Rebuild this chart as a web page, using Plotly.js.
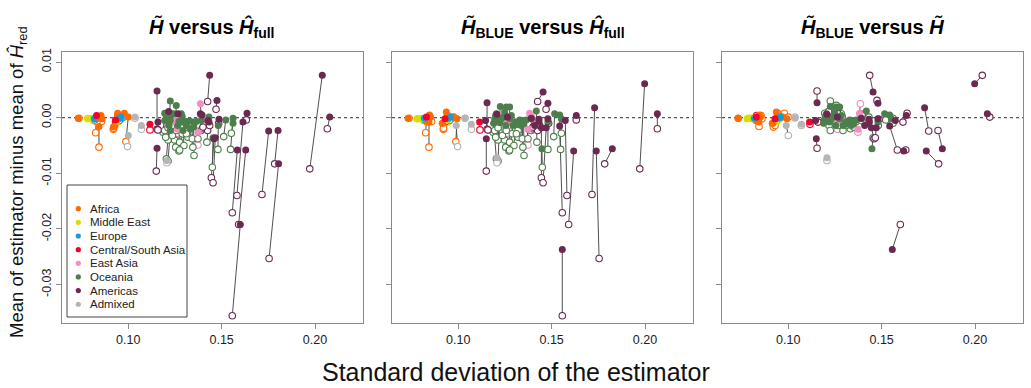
<!DOCTYPE html>
<html><head><meta charset="utf-8">
<script src="https://cdn.plot.ly/plotly-3.0.1.min.js"></script>
<style>html,body{margin:0;padding:0;background:#fff}#chart{width:1031px;height:388px}</style>
</head><body><div id="chart"></div><script>
// ---- data ----
const regionCodes = ['AFR','MDE','EUR','CSA','EAS','OCE','AME','ADM'];
const regionNames = ['Africa','Middle East','Europe','Central/South Asia','East Asia','Oceania','Americas','Admixed'];
const regionColors = ['#ff6a00','#d4e000','#1a9bd0','#f5002a','#f58ec0','#4c7f4c','#6b2850','#b5b5b5'];

const popRegion = [
 'AFR','AFR','AFR','AFR','AFR','AFR','AFR','AFR','AFR','AFR','AFR',
 'MDE','MDE','MDE','MDE',
 'EUR','EUR','EUR',
 'CSA','CSA','CSA',
 'EAS','EAS','EAS','EAS','EAS','EAS','EAS','EAS',
 'OCE','OCE','OCE','OCE','OCE','OCE','OCE','OCE','OCE','OCE',
 'OCE','OCE','OCE','OCE','OCE','OCE','OCE','OCE','OCE','OCE',
 'OCE','OCE','OCE','OCE','OCE','OCE','OCE','OCE','OCE','OCE',
 'AME','AME','AME','AME','AME','AME','AME','AME','AME','AME',
 'AME','AME','AME','AME','AME','AME','AME','AME','AME','AME',
 'AME','AME','AME','AME',
 'ADM','ADM','ADM','ADM'];

// H-tilde estimator: standard deviation and mean minus mean of H-hat_red
const sdTilde = [
 0.0732,0.0854,0.0843,0.0830,0.0943,0.0979,0.0920,0.1000,0.0859,0.0929,0.0829,
 0.0786,0.0800,0.0938,0.0811,
 0.0961,0.0818,0.0950,
 0.0830,0.1116,0.0932,
 0.1386,0.1261,0.1248,0.1293,0.1373,0.1221,0.1418,0.1263,
 0.1225,0.1257,0.1195,0.1218,0.1225,0.1230,0.1243,0.1284,0.1289,0.1195,
 0.1225,0.1271,0.1293,0.1311,0.1329,0.1350,0.1364,0.1391,0.1332,0.1350,
 0.1293,0.1432,0.1454,0.1522,0.1561,0.1561,0.1482,0.1266,0.1311,0.1204,
 0.2039,0.2079,0.1600,0.1752,0.1805,0.1802,0.1629,0.1584,0.1614,0.1636,
 0.1436,0.1475,0.1154,0.1154,0.1159,0.1459,0.1466,0.1386,0.1432,0.1486,
 0.1216,0.1266,0.1395,0.1427,
 0.1036,0.1070,0.1000,0.1207];
const meanTilde = [
 -0.0001,0.0004,-0.0016,-0.0002,0.0008,0.0008,-0.0017,0.0001,-0.0002,-0.0014,-0.0002,
 -0.0001,-0.0001,-0.0006,-0.0002,
 0.0001,-0.0002,-0.0002,
 0.0004,-0.0012,-0.0004,
 0.0025,0.0004,-0.0008,-0.0005,-0.0026,0.0007,-0.0006,-0.0021,
 0.0030,0.0022,0.0008,-0.0014,-0.0023,0.0007,0.0007,0.0007,0.0002,-0.0005,
 -0.0005,-0.0007,-0.0008,-0.0007,-0.0006,-0.0008,-0.0007,-0.0005,-0.0020,-0.0017,
 -0.0023,0.0001,-0.0036,-0.0004,-0.0001,-0.0010,-0.0014,-0.0014,-0.0014,0.0001,
 0.0076,0.0001,-0.0192,-0.0024,-0.0083,-0.0023,-0.0058,-0.0058,-0.0008,0.0008,
 0.0076,0.0031,0.0048,-0.0055,-0.0008,-0.0038,-0.0036,0.0007,-0.0008,-0.0003,
 0.0011,0.0007,0.0005,-0.0005,
 0.0001,-0.0014,-0.0032,-0.0077];

// H-tilde BLUE estimator
const sdBlue = [
 0.0731,0.0846,0.0843,0.0829,0.0936,0.0970,0.0914,0.0993,0.0852,0.0918,0.0825,
 0.0779,0.0802,0.0945,0.0811,
 0.0957,0.0818,0.0946,
 0.0829,0.1114,0.0929,
 0.1382,0.1257,0.1254,0.1293,0.1373,0.1214,0.1418,0.1266,
 0.1225,0.1257,0.1200,0.1189,0.1221,0.1248,0.1243,0.1275,0.1284,0.1195,
 0.1230,0.1275,0.1307,0.1329,0.1338,0.1346,0.1364,0.1391,0.1338,0.1350,
 0.1293,0.1418,0.1448,0.1516,0.1543,0.1552,0.1480,0.1254,0.1314,0.1204,
 0.1998,0.2066,0.1557,0.1730,0.1739,0.1825,0.1618,0.1543,0.1573,0.1632,
 0.1454,0.1480,0.1154,0.1150,0.1146,0.1445,0.1471,0.1409,0.1432,0.1480,
 0.1207,0.1263,0.1391,0.1432,
 0.1036,0.1070,0.0989,0.1207];
const meanBlue = [
 -0.0001,0.0005,-0.0008,-0.0006,0.0010,0.0001,-0.0010,-0.0002,0.0001,-0.0010,-0.0001,
 -0.0002,-0.0002,-0.0004,-0.0001,
 0.0001,-0.0001,-0.0001,
 0.0001,-0.0008,-0.0002,
 0.0008,-0.0002,-0.0005,-0.0006,-0.0021,-0.0002,-0.0005,-0.0005,
 0.0020,0.0019,0.0004,-0.0010,-0.0008,0.0010,0.0001,0.0019,0.0004,-0.0002,
 -0.0002,-0.0002,-0.0008,-0.0004,-0.0005,-0.0005,-0.0004,-0.0002,-0.0014,-0.0011,
 -0.0014,0.0012,-0.0056,0.0007,0.0005,-0.0002,-0.0008,-0.0014,-0.0012,0.0007,
 0.0061,0.0007,-0.0237,0.0018,-0.0060,-0.0056,-0.0060,-0.0015,-0.0005,0.0004,
 0.0046,0.0026,0.0027,-0.0038,-0.0005,-0.0018,-0.0018,-0.0014,-0.0003,-0.0002,
 0.0006,0.0001,-0.0001,-0.0008,
 -0.0001,-0.0012,-0.0014,-0.0072];

// H-hat full estimator
const sdFull = [
 0.0736,0.0852,0.0843,0.0825,0.0943,0.0975,0.0920,0.0987,0.0857,0.0921,0.0832,
 0.0782,0.0804,0.0945,0.0814,
 0.0961,0.0821,0.0952,
 0.0832,0.1116,0.0932,
 0.1391,0.1266,0.1257,0.1284,0.1373,0.1213,0.1414,0.1263,
 0.1213,0.1248,0.1186,0.1204,0.1213,0.1200,0.1254,0.1275,0.1289,0.1195,
 0.1236,0.1271,0.1298,0.1320,0.1320,0.1343,0.1373,0.1391,0.1346,0.1352,
 0.1275,0.1421,0.1450,0.1511,0.1548,0.1552,0.1480,0.1257,0.1311,0.1213,
 0.1972,0.2066,0.1557,0.1716,0.1754,0.1784,0.1591,0.1557,0.1582,0.1632,
 0.1425,0.1470,0.1154,0.1150,0.1159,0.1445,0.1454,0.1396,0.1425,0.1484,
 0.1221,0.1266,0.1400,0.1436,
 0.1036,0.1070,0.0996,0.1207];
const meanFull = [
 -0.0001,-0.0005,-0.0053,-0.0027,0.0004,0.0001,-0.0021,-0.0043,-0.0007,-0.0019,-0.0008,
 -0.0002,-0.0002,-0.0008,-0.0005,
 -0.0002,-0.0004,-0.0005,
 -0.0001,-0.0022,-0.0007,
 0.0001,-0.0008,-0.0023,-0.0014,-0.0049,-0.0014,-0.0008,-0.0028,
 -0.0040,-0.0040,-0.0026,-0.0074,-0.0078,-0.0035,-0.0053,-0.0044,-0.0029,-0.0023,
 -0.0032,-0.0060,-0.0050,-0.0035,-0.0023,-0.0038,-0.0038,-0.0023,-0.0053,-0.0068,
 -0.0058,-0.0044,-0.0089,-0.0034,-0.0057,-0.0028,-0.0057,-0.0023,-0.0029,-0.0018,
 -0.0092,-0.0020,-0.0356,-0.0138,-0.0253,-0.0083,-0.0192,-0.0171,-0.0140,-0.0004,
 0.0029,0.0015,-0.0021,-0.0096,-0.0022,-0.0108,-0.0117,-0.0020,-0.0023,-0.0010,
 -0.0008,-0.0006,-0.0017,-0.0014,
 -0.0001,-0.0021,-0.0052,-0.0081];

const xTickVals = [0.10, 0.15, 0.20];
const xTickText = ['0.10', '0.15', '0.20'];
const yTickVals = [0.01, 0.00, -0.01, -0.02, -0.03];
const yTickText = ['0.01', '0.00', '-0.01', '-0.02', '-0.03'];

const panelTitles = [
 '<b><i>H̃</i> versus <i>Ĥ</i><sub>full</sub></b>',
 '<b><i>H̃</i><sub>BLUE</sub> versus <i>Ĥ</i><sub>full</sub></b>',
 '<b><i>H̃</i><sub>BLUE</sub> versus <i>H̃</i></b>'
];
const xTitle = 'Standard deviation of the estimator';
const yTitle = 'Mean of estimator minus mean of <i>Ĥ</i><sub>red</sub>';

// ---- build ----
const FONT = 'Liberation Sans, Arial, Helvetica, sans-serif';
const popColor = popRegion.map(c => regionColors[regionCodes.indexOf(c)]);

const panels = [
 {fx: sdTilde, fy: meanTilde, ox: sdFull, oy: meanFull},
 {fx: sdBlue, fy: meanBlue, ox: sdFull, oy: meanFull},
 {fx: sdBlue, fy: meanBlue, ox: sdTilde, oy: meanTilde}
];
const domains = [[0, 0.3132], [0.3434, 0.6566], [0.6868, 1]];

const traces = [];
panels.forEach((p, k) => {
  const xa = k === 0 ? 'x' : 'x' + (k + 1);
  const ya = k === 0 ? 'y' : 'y' + (k + 1);
  const sx = [], sy = [];
  for (let i = 0; i < popRegion.length; i++) {
    sx.push(p.fx[i], p.ox[i], null);
    sy.push(p.fy[i], p.oy[i], null);
  }
  traces.push({type: 'scatter', mode: 'lines', x: sx, y: sy, xaxis: xa, yaxis: ya,
    line: {color: '#505050', width: 1}, hoverinfo: 'skip', showlegend: false, connectgaps: false});
  traces.push({type: 'scatter', mode: 'markers', x: p.ox, y: p.oy, xaxis: xa, yaxis: ya,
    marker: {symbol: 'circle', size: 6.5, color: '#ffffff', line: {color: popColor, width: 1.1}},
    showlegend: false});
  traces.push({type: 'scatter', mode: 'markers', x: p.fx, y: p.fy, xaxis: xa, yaxis: ya,
    marker: {symbol: 'circle', size: 7, color: popColor, line: {width: 0}},
    showlegend: false});
});

const xRange = [0.0645, 0.2257];
const yRange = [-0.0369, 0.0118];

const layout = {
  width: 1031, height: 388,
  margin: {l: 62, r: 8, t: 52, b: 65, pad: 0},
  paper_bgcolor: '#ffffff', plot_bgcolor: '#ffffff',
  font: {family: FONT, color: '#222222', size: 12.5},
  showlegend: false,
  shapes: [], annotations: []
};

domains.forEach((d, k) => {
  const xn = k === 0 ? 'xaxis' : 'xaxis' + (k + 1);
  const yn = k === 0 ? 'yaxis' : 'yaxis' + (k + 1);
  const xa = k === 0 ? 'x' : 'x' + (k + 1);
  const ya = k === 0 ? 'y' : 'y' + (k + 1);
  layout[xn] = {domain: d, anchor: ya, range: xRange, tickmode: 'array', tickvals: xTickVals, ticktext: xTickText,
    ticks: 'outside', ticklen: 5, tickwidth: 1, tickcolor: '#8a8a8a', showline: true, mirror: true,
    linecolor: '#8a8a8a', linewidth: 1.3, showgrid: false, zeroline: false,
    tickfont: {family: FONT, size: 12.5, color: '#222'}};
  layout[yn] = {domain: [0, 1], anchor: xa, range: yRange, tickmode: 'array', tickvals: yTickVals, ticktext: yTickText,
    ticks: 'outside', ticklen: 5, tickwidth: 1, tickcolor: '#8a8a8a', showline: true, mirror: true,
    linecolor: '#8a8a8a', linewidth: 1.3, showgrid: false, zeroline: false, tickangle: -90,
    showticklabels: k === 0, tickfont: {family: FONT, size: 12.5, color: '#222'}};
  layout.shapes.push({type: 'line', xref: xa + ' domain', yref: ya, x0: 0, x1: 1, y0: 0, y1: 0,
    line: {color: '#555555', width: 1.2, dash: 'dot'}, layer: 'below'});
  layout.annotations.push({text: panelTitles[k], xref: 'paper', yref: 'paper',
    x: (d[0] + d[1]) / 2, y: 1.0886, xanchor: 'center', yanchor: 'middle', showarrow: false,
    font: {family: FONT, size: 20, color: '#000'}});
});

// axis titles
layout.annotations.push({text: xTitle, xref: 'paper', yref: 'paper', x: (515.5 - 62) / 961, y: (323 - 372) / 271,
  xanchor: 'center', yanchor: 'middle', showarrow: false, font: {family: FONT, size: 25, color: '#111'}});
layout.annotations.push({text: yTitle, xref: 'paper', yref: 'paper', x: (18 - 62) / 961, y: (323 - 182) / 271,
  xanchor: 'center', yanchor: 'middle', textangle: -90, showarrow: false, font: {family: FONT, size: 18.5, color: '#111'}});

// legend box (panel 1, bottom left)
const px = v => (v - 62) / 961;
const py = v => (323 - v) / 271;
layout.shapes.push({type: 'rect', xref: 'paper', yref: 'paper', x0: px(67), x1: px(187), y0: py(317), y1: py(185),
  line: {color: '#444', width: 1}, fillcolor: '#ffffff', layer: 'above'});
regionNames.forEach((name, i) => {
  const yy = py(208.7 + i * 13.65);
  layout.shapes.push({type: 'circle', xref: 'paper', yref: 'paper', xsizemode: 'pixel', ysizemode: 'pixel',
    xanchor: px(78.3), yanchor: yy, x0: -2.6, x1: 2.6, y0: -2.6, y1: 2.6,
    fillcolor: regionColors[i], line: {width: 0}, layer: 'above'});
  layout.annotations.push({text: name, xref: 'paper', yref: 'paper', x: px(87.5), y: yy,
    xanchor: 'left', yanchor: 'middle', showarrow: false, font: {family: FONT, size: 11.5, color: '#222'}});
});

Plotly.newPlot('chart', traces, layout, {displayModeBar: false, staticPlot: true});
</script></body></html>
